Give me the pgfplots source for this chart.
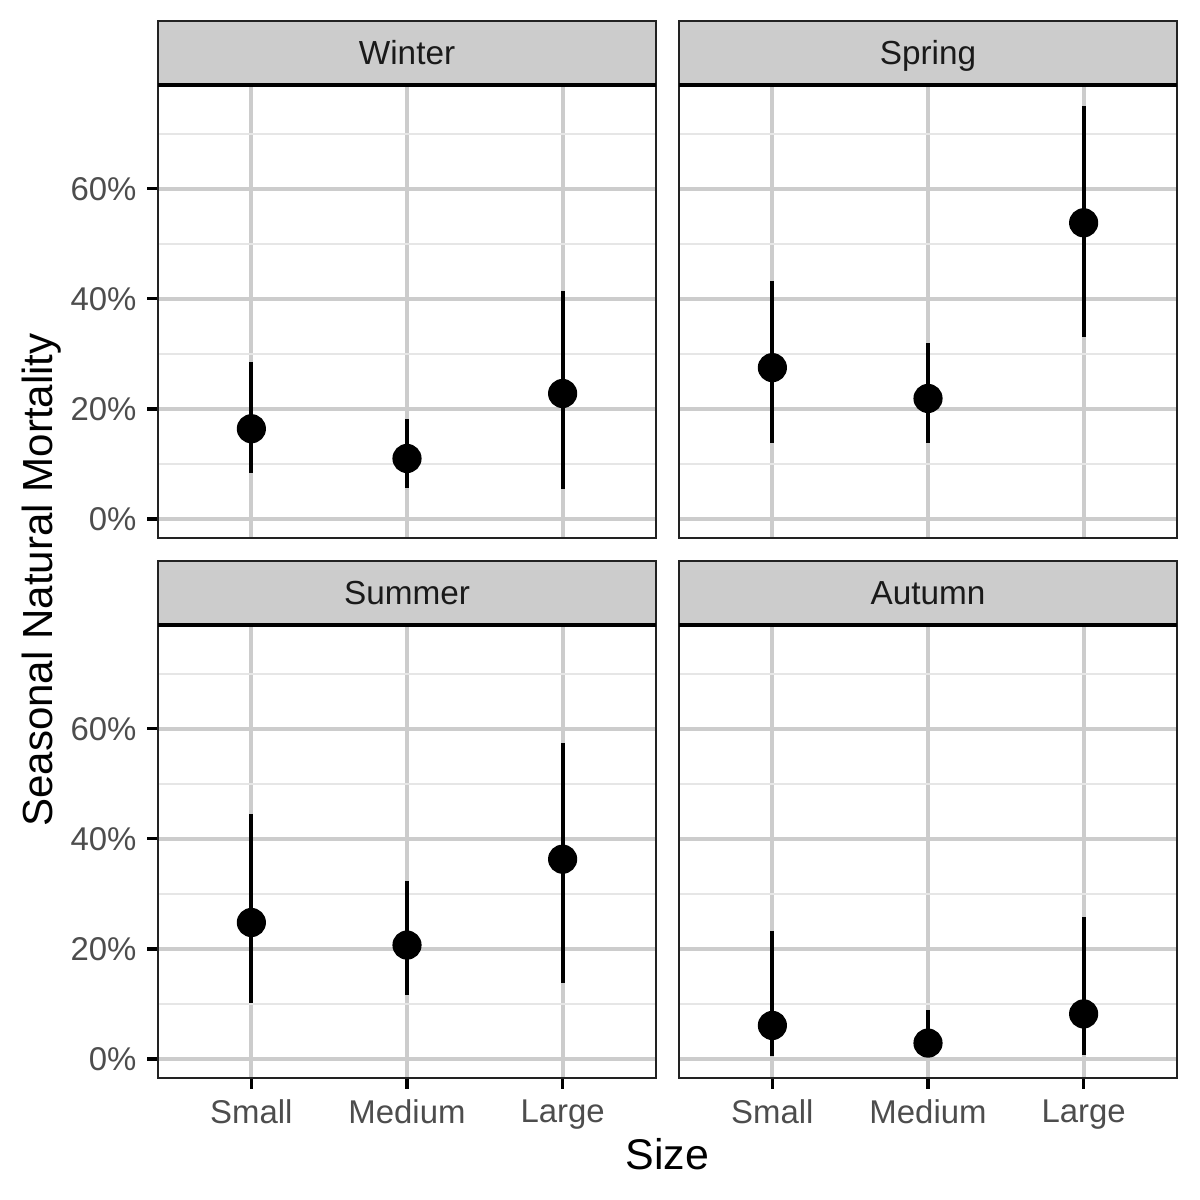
\documentclass[border=0pt]{standalone}
\usepackage{pgfplots}
\pgfplotsset{compat=1.18}
\usepackage{pgfplotstable}
\usepackage{fontspec}
\setmainfont{Liberation Sans}
\definecolor{gridmajor}{HTML}{CCCCCC}
\definecolor{gridminor}{HTML}{E6E6E6}
\definecolor{tickgray}{HTML}{4D4D4D}
\definecolor{stripfill}{HTML}{CCCCCC}
\definecolor{striptext}{HTML}{1A1A1A}
\definecolor{border}{HTML}{222222}

\pgfplotstableread{
x y lo hi
1 16.4 8.45 28.5
2 11.0 5.7 18.2
3 22.8 5.4 41.5
}\winter
\pgfplotstableread{
x y lo hi
1 27.5 13.9 43.3
2 21.9 13.9 31.9
3 53.8 33.1 75.1
}\spring
\pgfplotstableread{
x y lo hi
1 24.8 10.1 44.5
2 20.7 11.6 32.4
3 36.3 13.8 57.4
}\summer
\pgfplotstableread{
x y lo hi
1 6.1 0.5 23.2
2 2.9 0.3 9.0
3 8.2 0.8 25.8
}\autumn

\pgfplotsset{
  panel/.style={
    scale only axis, width=119.52pt, height=108.72pt,
    anchor=south west,
    xmin=0.4, xmax=3.6, ymin=-3.44, ymax=78.84,
    xtick={1,2,3}, xticklabels={Small,Medium,Large},
    ytick={0,20,40,60}, yticklabels={0\%,20\%,40\%,60\%},
    minor ytick={10,30,50,70},
    xmajorgrids, ymajorgrids, yminorgrids,
    major grid style={draw=gridmajor, line width=0.96pt},
    minor grid style={draw=gridminor, line width=0.5pt},
    axis line style={draw=border, line width=0.55pt},
    tick align=outside, tick pos=left,
    major tick length=2.64pt, minor tick length=0pt,
    tick style={draw=black, line width=0.8pt},
    ticklabel style={font=\fontsize{7.9}{9.5}\selectfont, text=tickgray},
    yticklabel style={xshift=1pt},
    xticklabel style={yshift=1pt},
  },
  pts/.style={only marks, mark=*, mark size=3.3pt, black,
    error bars/.cd, y dir=both, y explicit, error mark=none,
    error bar style={line width=1pt, black}},
}
\newcommand{\strip}[2]{%
  \draw[fill=stripfill, draw=border, line width=0.5pt] (#1.north west) rectangle ([yshift=15.36pt]#1.north east);
  \draw[draw=black, line width=0.9pt] (#1.north west) -- (#1.north east);
  \node[anchor=base, text=striptext, font=\fontsize{8.0}{9.6}\selectfont, inner sep=0pt] at ([yshift=4.9pt]#1.north) {#2};
}

\begin{document}
\begin{tikzpicture}
\path[use as bounding box] (0,0) rectangle (288pt,288pt);

\begin{axis}[panel, name=tl, at={(37.92pt,158.88pt)}, xmajorticks=false]
\addplot[pts] table[x=x, y=y, y error plus expr=\thisrow{hi}-\thisrow{y}, y error minus expr=\thisrow{y}-\thisrow{lo}] {\winter};
\end{axis}

\begin{axis}[panel, name=tr, at={(162.96pt,158.88pt)}, xmajorticks=false, ymajorticks=false]
\addplot[pts] table[x=x, y=y, y error plus expr=\thisrow{hi}-\thisrow{y}, y error minus expr=\thisrow{y}-\thisrow{lo}] {\spring};
\end{axis}

\begin{axis}[panel, name=bl, at={(37.92pt,29.28pt)}]
\addplot[pts] table[x=x, y=y, y error plus expr=\thisrow{hi}-\thisrow{y}, y error minus expr=\thisrow{y}-\thisrow{lo}] {\summer};
\end{axis}

\begin{axis}[panel, name=br, at={(162.96pt,29.28pt)}, ymajorticks=false]
\addplot[pts] table[x=x, y=y, y error plus expr=\thisrow{hi}-\thisrow{y}, y error minus expr=\thisrow{y}-\thisrow{lo}] {\autumn};
\end{axis}

\strip{tl}{Winter}
\strip{tr}{Spring}
\strip{bl}{Summer}
\strip{br}{Autumn}

\node[anchor=base, rotate=90, font=\fontsize{10.1}{12.1}\selectfont, inner sep=0pt] at (12.5pt,148.8pt) {Seasonal Natural Mortality};
\node[anchor=base, font=\fontsize{10.3}{12.4}\selectfont, inner sep=0pt] at (160.2pt,7.44pt) {Size};
\end{tikzpicture}
\end{document}
